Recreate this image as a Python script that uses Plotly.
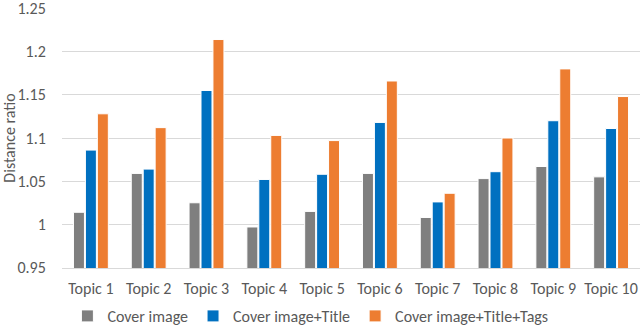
import plotly.graph_objects as go

topics = [f"Topic {i}" for i in range(1, 11)]
cover_image = [1.014, 1.059, 1.025, 0.997, 1.015, 1.059, 1.008, 1.053, 1.067, 1.055]
cover_title = [1.086, 1.064, 1.155, 1.052, 1.058, 1.118, 1.026, 1.061, 1.120, 1.111]
cover_title_tags = [1.128, 1.112, 1.214, 1.103, 1.097, 1.166, 1.036, 1.100, 1.180, 1.148]

series = [
    ("Cover image", cover_image, "#7f7f7f"),
    ("Cover image+Title", cover_title, "#0070c0"),
    ("Cover image+Title+Tags", cover_title_tags, "#ed7d31"),
]

FONT = "Carlito, Calibri, Liberation Sans, sans-serif"
TEXT = "#595959"

fig = go.Figure()
for name, vals, color in series:
    fig.add_trace(go.Bar(
        x=topics,
        y=vals,
        name=name,
        marker=dict(color=color, line=dict(color="white", width=1)),
    ))

fig.update_layout(
    barmode="group",
    bargap=0.38,
    bargroupgap=0.08,
    width=640,
    height=326,
    margin=dict(l=62, r=0, t=8, b=58, autoexpand=False),
    paper_bgcolor="white",
    plot_bgcolor="white",
    font=dict(family=FONT, size=16, color=TEXT),
    xaxis=dict(
        showline=True,
        linecolor="#d9d9d9",
        linewidth=1,
        tickfont=dict(size=16, color=TEXT),
        ticks="outside",
        ticklen=6,
        tickcolor="rgba(0,0,0,0)",
    ),
    yaxis=dict(
        range=[0.9495, 1.2505],
        tickvals=[0.95, 1, 1.05, 1.1, 1.15, 1.2, 1.25],
        ticktext=["0.95", "1", "1.05", "1.1", "1.15", "1.2", "1.25"],
        showgrid=True,
        gridcolor="#d9d9d9",
        gridwidth=1,
        zeroline=False,
        ticks="outside",
        ticklen=12,
        tickcolor="rgba(0,0,0,0)",
        ticklabeloverflow="allow",
        tickfont=dict(size=16, color=TEXT),
        title=dict(text="Distance ratio", font=dict(size=16, color=TEXT), standoff=4),
    ),
    legend=dict(
        orientation="h",
        xref="container",
        yref="container",
        x=0.485,
        xanchor="center",
        y=(326 - 316) / 326,
        yanchor="middle",
        font=dict(size=16, color=TEXT),
        itemwidth=30,
        traceorder="normal",
    ),
)

fig.write_html(
    "out.html",
    config={"displayModeBar": False},
    post_script="document.body.style.margin='0';",
)
